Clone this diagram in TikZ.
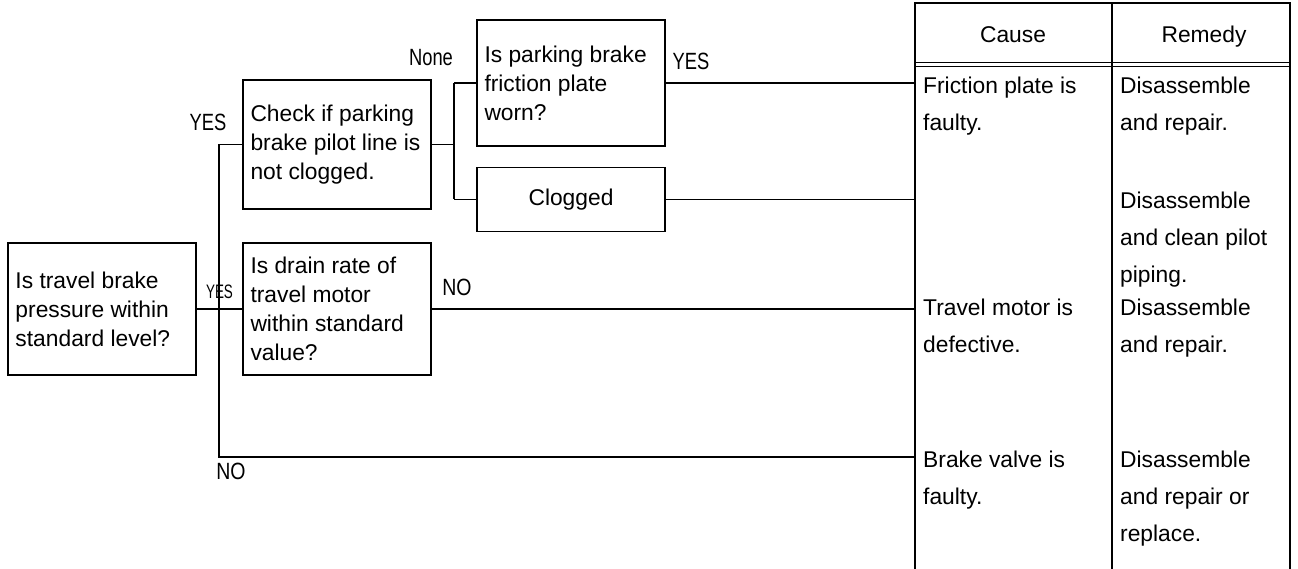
\documentclass[tikz,border=0pt]{standalone}
\usepackage{fontspec}
\setmainfont{Liberation Sans}
\usepackage{graphicx}
\newcommand{\cnd}[2][0.78]{\scalebox{#1}[1]{#2}}
\begin{document}
\begin{tikzpicture}[x=1pt,y=-1pt,
  box/.style={draw, line width=1.3pt, rectangle, inner xsep=7.5pt, inner ysep=0pt,
    text width=173pt, minimum height=#1, align=flush left,
    font=\fontsize{22.8}{29}\selectfont},
  conn/.style={line width=1.1pt},
  lbl/.style={inner sep=0pt, font=\fontsize{23.5}{28}\selectfont},
  cell/.style={inner sep=0pt, anchor=north west, align=flush left,
    font=\fontsize{22.8}{37}\selectfont},
  hdr/.style={inner sep=0pt, anchor=base, font=\fontsize{22.8}{28}\selectfont}]
\useasboundingbox (0,0) rectangle (1298,569);

% flowchart boxes
\node[box=132pt] (A) at (102,309) {Is travel brake\\pressure within\\standard level?};
\node[box=129pt] (B) at (337,144.5) {Check if parking\\brake pilot line is\\not clogged.};
\node[box=132pt] (C) at (337,309) {Is drain rate of\\travel motor\\within standard\\value?};
\node[box=126pt] (D) at (571,83) {Is parking brake\\friction plate\\worn?};
\node[box=64pt, align=center] (E) at (571,199.5) {Clogged};

% junction coordinates
\coordinate (tt) at (219,144.5);
\coordinate (tb) at (219,457);
\coordinate (bt) at (454,83);
\coordinate (bb) at (454,199.5);
\coordinate (TL) at (915,3);
\coordinate (TR) at (1290,3);
\coordinate (BL) at (915,569);
\coordinate (BR) at (1290,569);
\coordinate (CT) at (1112,3);
\coordinate (CB) at (1112,569);

% connectors
\draw[conn] (A.east) -- (C.west);
\draw[conn] (B.west) -- (tt) -- (tb) -- (tb -| TL);
\draw[conn] (B.east) -- (B.east -| bt);
\draw[conn] (bt) -- (bb);
\draw[conn] (bt) -- (D.west);
\draw[conn] (bb) -- (E.west);
\draw[conn] (D.east) -- (D.east -| TL);
\draw[conn] (E.east) -- (E.east -| TL);
\draw[conn] (C.east) -- (C.east -| TL);

% labels
\node[lbl] (l1) at (431,57.5) {\cnd{None}};
\node[lbl] (l2) at (691,61) {\cnd{YES}};
\node[lbl] (l3) at (208,122) {\cnd{YES}};
\node[lbl, font=\fontsize{19.5}{24}\selectfont] (l4) at (219.5,292) {\cnd[0.69]{YES}};
\node[lbl] (l5) at (457,287.5) {\cnd[0.83]{NO}};
\node[lbl] (l6) at (231,471) {\cnd[0.83]{NO}};

% table
\draw[line width=1.8pt] (BL) -- (TL) -- (TR) -- (BR);
\draw[line width=1.1pt] (CT) -- (CB);
\draw[line width=0.9pt] (915,62) -- (1290,62);
\draw[line width=0.9pt] (915,66) -- (1290,66);

\node[hdr] (h1) at (1013,43) {Cause};
\node[hdr] (h2) at (1204,43) {Remedy};

\node[cell] (c1) at (923,67.1) {\strut Friction plate is\\faulty.};
\node[cell] (c2) at (923,289.1) {\strut Travel motor is\\defective.};
\node[cell] (c3) at (923,441.1) {\strut Brake valve is\\faulty.};

\node[cell] (m1) at (1120,67.1) {\strut Disassemble\\and repair.};
\node[cell] (m2) at (1120,182.1) {\strut Disassemble\\and clean pilot\\piping.};
\node[cell] (m3) at (1120,289.1) {\strut Disassemble\\and repair.};
\node[cell] (m4) at (1120,441.1) {\strut Disassemble\\and repair or\\replace.};
\end{tikzpicture}
\end{document}
